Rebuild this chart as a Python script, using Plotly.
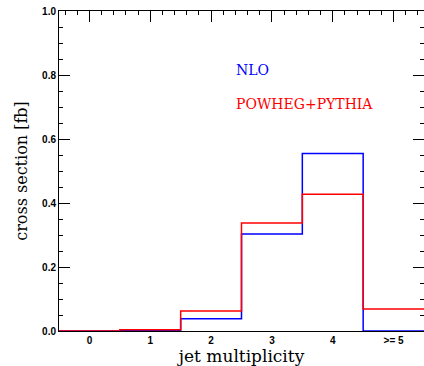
import plotly.graph_objects as go

bin_edges = [-0.5, 0.5, 1.5, 2.5, 3.5, 4.5, 5.5]
tick_positions = [0, 1, 2, 3, 4, 5]
tick_labels = ["0", "1", "2", "3", "4", ">= 5"]
nlo_values = [0.0, 0.002, 0.038, 0.303, 0.555, 0.0]
powheg_values = [0.0, 0.004, 0.0625, 0.3375, 0.427, 0.069]

fig = go.Figure()
fig.add_trace(go.Scatter(x=bin_edges, y=nlo_values + [nlo_values[-1]], mode="lines",
                         line=dict(shape="hv", color="#0000ff", width=1.5),
                         name="NLO", showlegend=False))
fig.add_trace(go.Scatter(x=bin_edges, y=powheg_values + [powheg_values[-1]], mode="lines",
                         line=dict(shape="hv", color="#ff0000", width=1.5),
                         name="POWHEG+PYTHIA", showlegend=False))
fig.add_trace(go.Scatter(x=[None], y=[None], xaxis="x2", yaxis="y2", showlegend=False,
                         hoverinfo="skip"))

serif = "DejaVu Serif"
tickfont = dict(family="Liberation Sans", size=10, color="black", weight="bold")

fig.update_layout(
    width=424, height=366,
    margin=dict(l=59, r=0, t=11, b=35),
    paper_bgcolor="white", plot_bgcolor="white",
    xaxis=dict(range=[-0.5, 5.5], tickvals=tick_positions, ticktext=tick_labels,
               ticks="", showline=True, linecolor="black", linewidth=1,
               showgrid=False, zeroline=False, tickfont=tickfont,
               title=dict(text="jet multiplicity", font=dict(family=serif, size=17, color="black"),
                          standoff=4)),
    xaxis2=dict(range=[-0.5, 5.5], overlaying="x", side="top", anchor="y",
                tick0=0, dtick=1, ticks="inside", ticklen=11, tickcolor="black",
                minor=dict(dtick=0.2, ticks="inside", ticklen=4, tickcolor="black"),
                showticklabels=False, showline=True, linecolor="black", linewidth=1,
                showgrid=False, zeroline=False),
    yaxis=dict(range=[0, 1], tick0=0, dtick=0.2, tickformat=".1f",
               ticks="inside", ticklen=11, tickcolor="black",
               minor=dict(dtick=0.05, ticks="inside", ticklen=4, tickcolor="black"),
               showline=True, linecolor="black", linewidth=1,
               showgrid=False, zeroline=False, tickfont=tickfont,
               title=dict(text="cross section [fb]", font=dict(family=serif, size=16, color="black"),
                          standoff=10)),
    yaxis2=dict(range=[0, 1], overlaying="y", side="right", anchor="x",
                tick0=0, dtick=0.2, ticks="inside", ticklen=11, tickcolor="black",
                minor=dict(dtick=0.05, ticks="inside", ticklen=4, tickcolor="black"),
                showticklabels=False, showline=False, showgrid=False, zeroline=False),
    annotations=[
        dict(x=2.38, y=0.816, xref="x", yref="y", text="NLO", showarrow=False,
             xanchor="left", yanchor="middle",
             font=dict(family=serif, size=14, color="#0000ff")),
        dict(x=2.38, y=0.709, xref="x", yref="y", text="POWHEG+PYTHIA", showarrow=False,
             xanchor="left", yanchor="middle",
             font=dict(family=serif, size=14, color="#ff0000")),
    ],
)

fig.write_html("out.html")
